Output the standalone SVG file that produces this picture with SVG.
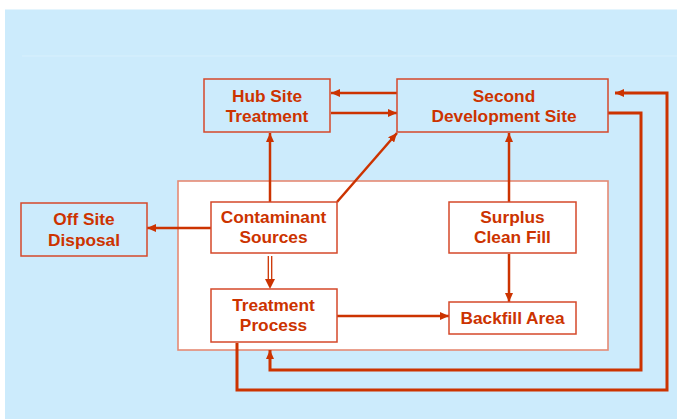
<svg xmlns="http://www.w3.org/2000/svg" width="677" height="419" viewBox="0 0 677 419">
  <style>
    .label { font-family: "Liberation Sans", Arial, sans-serif; font-weight: bold; font-size: 17.3px; fill: #CC3300; text-anchor: middle; }
    .node { stroke: #D5482A; stroke-width: 1.5; }
    .open { fill: none; }
    .solid { fill: #FFFFFF; }
    .conn { fill: none; stroke: #CC3300; stroke-width: 2.5; }
    .loop { fill: none; stroke: #CC3300; stroke-width: 3; }
  </style>
  <defs>
    <marker id="arrow" markerUnits="userSpaceOnUse" markerWidth="9" markerHeight="8" refX="9" refY="4" orient="auto">
      <path d="M0,0 L9,4 L0,8 z" fill="#CC3300"/>
    </marker>
  </defs>

  <!-- page background -->
  <rect x="0" y="0" width="677" height="419" fill="#FFFFFF"/>
  <rect x="5" y="9.5" width="672" height="409.5" fill="#CCEBFC"/>
  <line x1="22" y1="56" x2="677" y2="56" stroke="#D8F0FD" stroke-width="1"/>

  <!-- on-site work area -->
  <rect id="site-area" x="178" y="181" width="430" height="169" fill="#FFFFFF" stroke="#E58A74" stroke-width="1.6"/>

  <g id="connectors">
    <path class="conn" d="M397,93 H331" marker-end="url(#arrow)"/>
    <path class="conn" d="M331,113 H397" marker-end="url(#arrow)"/>
    <path class="conn" d="M270,202 V133" marker-end="url(#arrow)"/>
    <path class="conn" d="M337,202 L397,133" marker-end="url(#arrow)"/>
    <path class="conn" d="M509,202 V133" marker-end="url(#arrow)"/>
    <path class="conn" d="M509,254 V302" marker-end="url(#arrow)"/>
    <path class="conn" d="M337,316 H449" marker-end="url(#arrow)"/>
    <path class="conn" d="M211,228 H147" marker-end="url(#arrow)"/>
    <!-- double-line transfer to treatment -->
    <g id="double-arrow">
      <line x1="268.3" y1="256" x2="268.3" y2="281" stroke="#CC3300" stroke-width="1.3"/>
      <line x1="271.7" y1="256" x2="271.7" y2="281" stroke="#CC3300" stroke-width="1.3"/>
      <path d="M265,279 L275,279 L270,289 z" fill="#CC3300"/>
    </g>
    <path class="loop" d="M608,113 H641 V370 H270 V350" marker-end="url(#arrow)"/>
    <path class="loop" d="M237,343 V390 H667 V93 H615" marker-end="url(#arrow)"/>
  </g>

  <g id="hub-site-treatment">
    <rect class="node open" x="204" y="79" width="126" height="53"/>
    <text class="label" x="267" y="101.5">Hub Site</text>
    <text class="label" x="267" y="121.5">Treatment</text>
  </g>

  <g id="second-development-site">
    <rect class="node open" x="397" y="79" width="211" height="53"/>
    <text class="label" x="504" y="101.5">Second</text>
    <text class="label" x="504" y="121.5">Development Site</text>
  </g>

  <g id="off-site-disposal">
    <rect class="node open" x="21" y="203" width="126" height="53"/>
    <text class="label" x="84" y="225">Off Site</text>
    <text class="label" x="84" y="245.5">Disposal</text>
  </g>

  <g id="contaminant-sources">
    <rect class="node solid" x="211" y="202" width="126" height="51"/>
    <text class="label" x="273.5" y="223">Contaminant</text>
    <text class="label" x="273.5" y="243">Sources</text>
  </g>

  <g id="treatment-process">
    <rect class="node solid" x="211" y="289" width="126" height="53"/>
    <text class="label" x="273.5" y="311">Treatment</text>
    <text class="label" x="273.5" y="331">Process</text>
  </g>

  <g id="surplus-clean-fill">
    <rect class="node solid" x="449" y="202" width="127" height="51"/>
    <text class="label" x="512.5" y="223">Surplus</text>
    <text class="label" x="512.5" y="243">Clean Fill</text>
  </g>

  <g id="backfill-area">
    <rect class="node solid" x="449" y="302" width="127" height="32"/>
    <text class="label" x="512.5" y="323.5">Backfill Area</text>
  </g>
</svg>
